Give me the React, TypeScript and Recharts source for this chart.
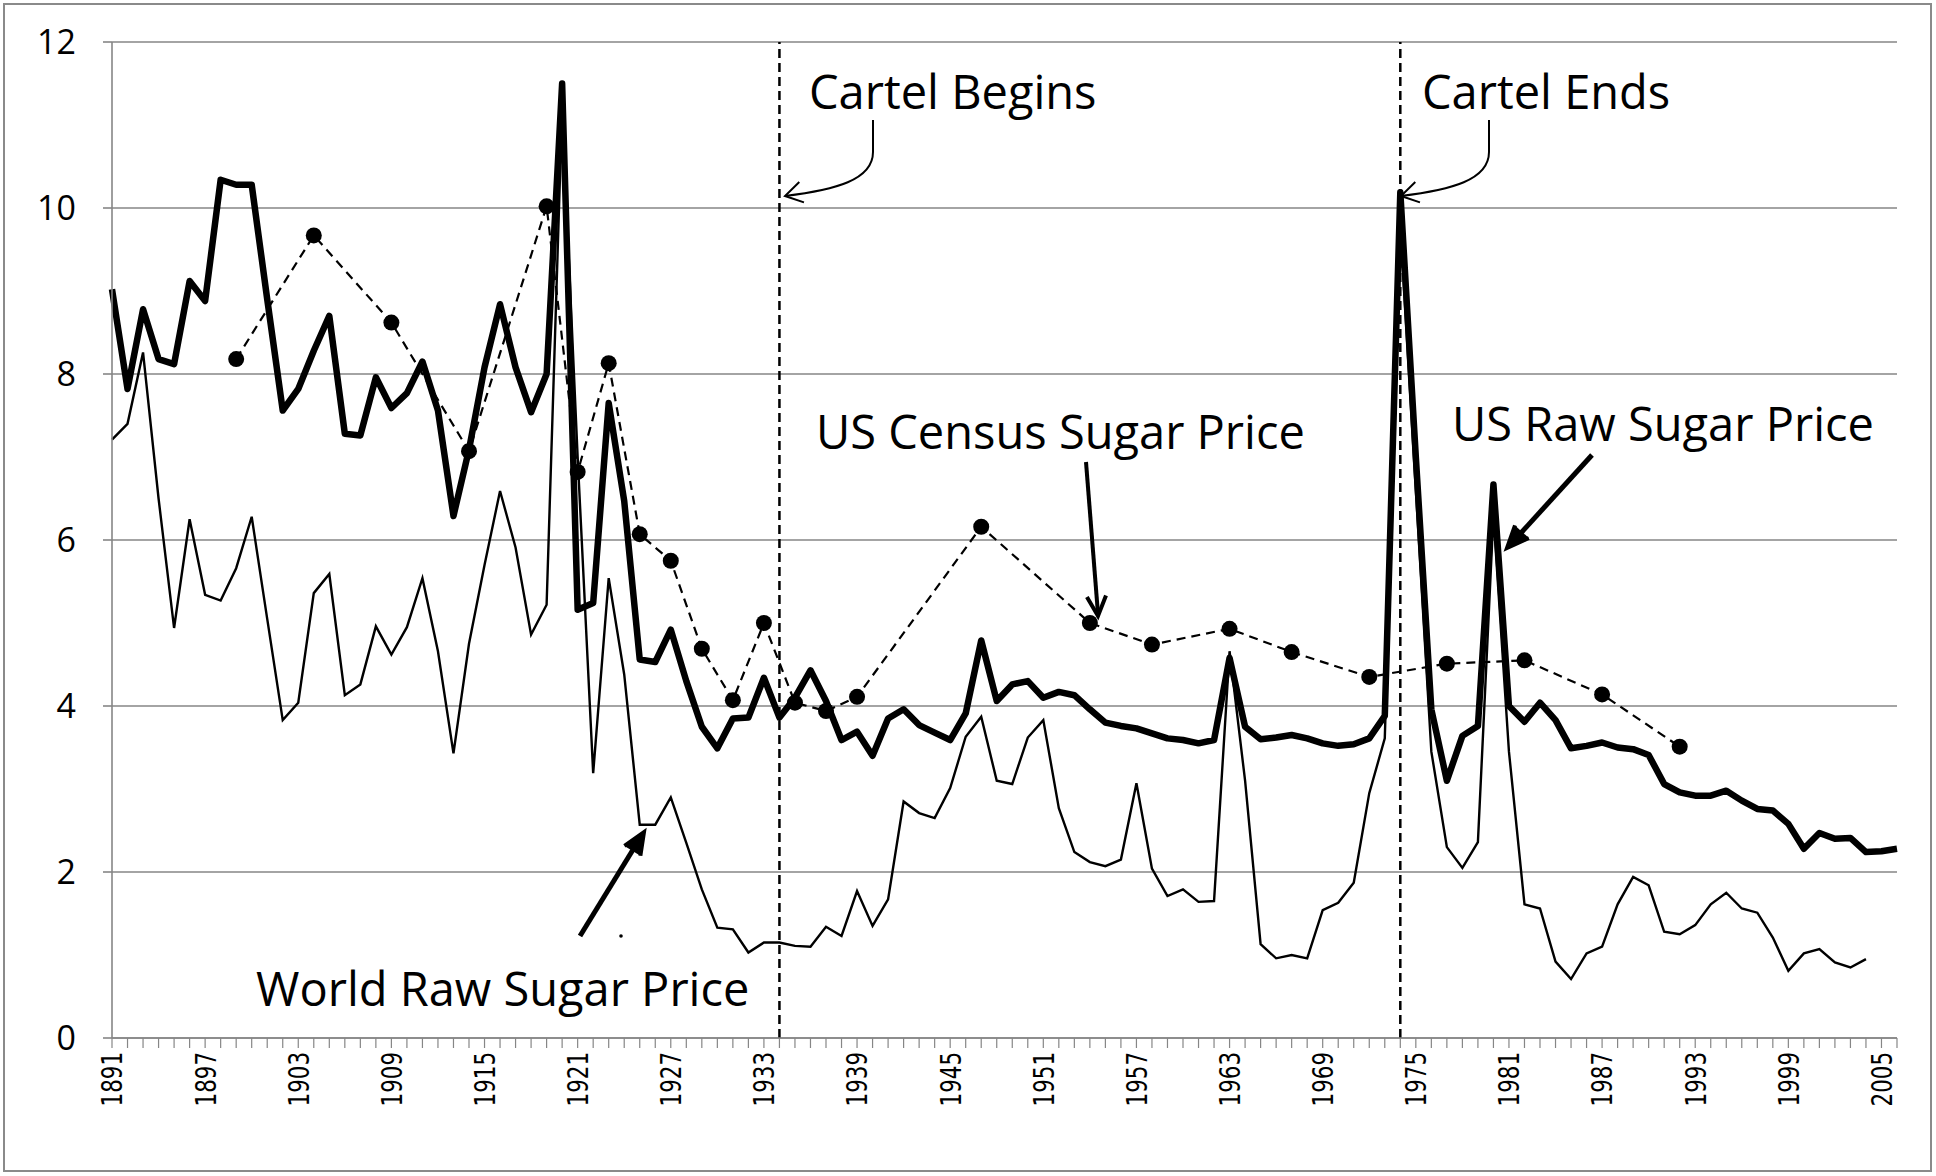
import React from "react";
import { LineChart, Line, XAxis, YAxis, CartesianGrid, ReferenceLine } from "recharts";

const YEARS = [
  1891, 1892, 1893, 1894, 1895, 1896, 1897, 1898, 1899, 1900,
  1901, 1902, 1903, 1904, 1905, 1906, 1907, 1908, 1909, 1910,
  1911, 1912, 1913, 1914, 1915, 1916, 1917, 1918, 1919, 1920,
  1921, 1922, 1923, 1924, 1925, 1926, 1927, 1928, 1929, 1930,
  1931, 1932, 1933, 1934, 1935, 1936, 1937, 1938, 1939, 1940,
  1941, 1942, 1943, 1944, 1945, 1946, 1947, 1948, 1949, 1950,
  1951, 1952, 1953, 1954, 1955, 1956, 1957, 1958, 1959, 1960,
  1961, 1962, 1963, 1964, 1965, 1966, 1967, 1968, 1969, 1970,
  1971, 1972, 1973, 1974, 1975, 1976, 1977, 1978, 1979, 1980,
  1981, 1982, 1983, 1984, 1985, 1986, 1987, 1988, 1989, 1990,
  1991, 1992, 1993, 1994, 1995, 1996, 1997, 1998, 1999, 2000,
  2001, 2002, 2003, 2004, 2005, 2006,
];

// US raw sugar price (thick line)
const US_RAW = [
  9.02, 7.82, 8.78, 8.18, 8.12, 9.12, 8.88, 10.34, 10.28, 10.28,
  8.9, 7.56, 7.82, 8.28, 8.7, 7.28, 7.26, 7.96, 7.59, 7.77,
  8.15, 7.56, 6.29, 7.09, 8.08, 8.84, 8.08, 7.54, 8.0, 11.5,
  5.16, 5.24, 7.65, 6.47, 4.56, 4.53, 4.92, 4.3, 3.75, 3.49,
  3.85, 3.86, 4.34, 3.86, 4.1, 4.43, 4.06, 3.59, 3.69, 3.4,
  3.85, 3.96, 3.77, 3.68, 3.59, 3.91, 4.79, 4.06, 4.26, 4.3,
  4.1, 4.17, 4.13, 3.96, 3.8, 3.76, 3.73, 3.67, 3.61, 3.59,
  3.55, 3.59, 4.58, 3.75, 3.6, 3.62, 3.65, 3.61, 3.55, 3.52,
  3.54, 3.61, 3.88, 10.19, 7.0, 3.96, 3.1, 3.64, 3.76, 6.67,
  4.0, 3.81, 4.04, 3.83, 3.49, 3.52, 3.56, 3.5, 3.48, 3.41,
  3.06, 2.96, 2.92, 2.92, 2.98, 2.86, 2.76, 2.74, 2.58, 2.28,
  2.47, 2.4, 2.41, 2.24, 2.25, 2.28,
];

// World raw sugar price (thin line)
const WORLD_RAW = [
  7.21, 7.4, 8.26, 6.5, 4.94, 6.25, 5.34, 5.27, 5.66, 6.28,
  5.05, 3.83, 4.04, 5.36, 5.59, 4.13, 4.26, 4.96, 4.62, 4.95,
  5.54, 4.66, 3.43, 4.75, 5.7, 6.59, 5.91, 4.86, 5.22, 11.2,
  7.0, 3.19, 5.54, 4.38, 2.57, 2.57, 2.9, 2.35, 1.79, 1.33,
  1.31, 1.03, 1.15, 1.15, 1.11, 1.1, 1.34, 1.23, 1.77, 1.35,
  1.67, 2.85, 2.71, 2.65, 3.01, 3.63, 3.87, 3.1, 3.06, 3.62,
  3.83, 2.77, 2.24, 2.12, 2.07, 2.15, 3.07, 2.04, 1.71, 1.79,
  1.64, 1.65, 4.66, 3.1, 1.13, 0.96, 1.0, 0.96, 1.54, 1.63,
  1.87, 2.95, 3.61, 9.8, 6.6, 3.45, 2.3, 2.05, 2.36, 6.3,
  3.45, 1.61, 1.56, 0.92, 0.71, 1.02, 1.1, 1.61, 1.94, 1.84,
  1.28, 1.25, 1.36, 1.61, 1.75, 1.56, 1.51, 1.21, 0.81, 1.02,
  1.07, 0.91, 0.85, 0.95, null, null,
];

// US census sugar price (dashed with dots)
const CENSUS_YEARS = [
  1899, 1904, 1909, 1914, 1919, 1921, 1923, 1925, 1927, 1929, 1931, 1933,
  1935, 1937, 1939, 1947, 1954, 1958, 1963, 1967, 1972, 1977, 1982, 1987, 1992,
];
const CENSUS_PRICE = [
  8.18, 9.67, 8.62, 7.07, 10.02, 6.82, 8.13, 6.07, 5.75, 4.69, 4.07, 5.0,
  4.04, 3.94, 4.11, 6.16, 5.0, 4.74, 4.93, 4.65, 4.35, 4.51, 4.55, 4.14, 3.51,
];

const Y_TICKS = [0, 2, 4, 6, 8, 10, 12];
const LABEL_EVERY = 6;
const CARTEL_BEGINS = 1934;
const CARTEL_ENDS = 1974;

const FONT = "'Open Sans', sans-serif";
const GRID = "#868686";

const data = YEARS.map((year, i) => {
  const c = CENSUS_YEARS.indexOf(year);
  return {
    year,
    raw: US_RAW[i],
    world: WORLD_RAW[i],
    census: c >= 0 ? CENSUS_PRICE[c] : null,
  };
});

// year labels: rotated, squeezed along the text so the digits stay tall
function YearTick(props: any) {
  const { x, y, payload } = props;
  if ((payload.value - YEARS[0]) % LABEL_EVERY !== 0) return <g />;
  return (
    <g transform={`translate(${x}, ${y}) rotate(-90) scale(0.82, 1)`}>
      <text
        x={0}
        y={0}
        textAnchor="end"
        dominantBaseline="central"
        fontSize={29}
        fontFamily="'DejaVu Sans Condensed', 'DejaVu Sans', sans-serif"
        fill="#000"
      >
        {payload.value}
      </text>
    </g>
  );
}

// arrow head arms pointing at (tx, ty) coming from (fx, fy)
function head(fx: number, fy: number, tx: number, ty: number, len: number, ang: number) {
  const a = Math.atan2(fy - ty, fx - tx);
  const p1 = [tx + len * Math.cos(a + ang), ty + len * Math.sin(a + ang)];
  const p2 = [tx + len * Math.cos(a - ang), ty + len * Math.sin(a - ang)];
  return `M ${p1[0]} ${p1[1]} L ${tx} ${ty} L ${p2[0]} ${p2[1]}`;
}

function Annotations() {
  const txt = { fontFamily: FONT, fontSize: 47, fill: "#000" };
  return (
    <svg
      width={1936}
      height={1176}
      style={{ position: "absolute", left: 0, top: 0, pointerEvents: "none" }}
    >
      <rect x={4} y={4} width={1927} height={1167} fill="none" stroke="#8a8a8a" strokeWidth={2} />

      <text x={809} y={109} {...txt}>Cartel Begins</text>
      <path d="M 873 120 L 873 152 C 873 180, 835 190, 785 196" fill="none" stroke="#000" strokeWidth={2} />
      <path d={head(820, 188, 785, 196, 20, 0.55)} fill="none" stroke="#000" strokeWidth={2} />

      <text x={1422} y={109} {...txt}>Cartel Ends</text>
      <path d="M 1489 120 L 1489 152 C 1489 180, 1451 190, 1401 196" fill="none" stroke="#000" strokeWidth={2} />
      <path d={head(1436, 188, 1401, 196, 20, 0.55)} fill="none" stroke="#000" strokeWidth={2} />

      <text x={816} y={449} {...txt}>US Census Sugar Price</text>
      <path d="M 1086 462 L 1098 614" fill="none" stroke="#000" strokeWidth={4} />
      <path d={head(1086, 462, 1098, 616, 22, 0.45)} fill="none" stroke="#000" strokeWidth={4} />

      <text x={1452} y={441} {...txt}>US Raw Sugar Price</text>
      <path d="M 1592 455 L 1510 545" fill="none" stroke="#000" strokeWidth={5} />
      <path d={head(1592, 455, 1507, 548, 24, 0.4)} fill="#000" stroke="#000" strokeWidth={4} />

      <text x={256} y={1006} {...txt}>World Raw Sugar Price</text>
      <path d="M 580 936 L 642 835" fill="none" stroke="#000" strokeWidth={5} />
      <path d={head(580, 936, 644, 832, 24, 0.4)} fill="#000" stroke="#000" strokeWidth={4} />
      <circle cx={621} cy={936} r={1.8} fill="#000" />
    </svg>
  );
}

export default function App() {
  return (
    <div style={{ position: "absolute", left: 0, top: 0, width: 1936, height: 1176, background: "#fff" }}>
      <LineChart
        width={1936}
        height={1176}
        data={data}
        margin={{ top: 42, right: 39, bottom: 18, left: 12 }}
      >
        <CartesianGrid vertical={false} stroke={GRID} strokeWidth={1.6} />
        <XAxis
          dataKey="year"
          interval={0}
          height={120}
          tickSize={10}
          tickMargin={4}
          tick={YearTick}
          axisLine={{ stroke: GRID, strokeWidth: 1.6 }}
          tickLine={{ stroke: GRID, strokeWidth: 1.2 }}
        />
        <YAxis
          domain={[0, 12]}
          ticks={Y_TICKS}
          width={100}
          tickSize={9}
          tickMargin={27}
          axisLine={{ stroke: GRID, strokeWidth: 1.6 }}
          tickLine={{ stroke: GRID, strokeWidth: 1.6 }}
          tick={{ fontSize: 34, fontFamily: FONT, fill: "#000" }}
        />
        <ReferenceLine x={CARTEL_BEGINS} stroke="#000" strokeWidth={2.5} strokeDasharray="9 5" />
        <ReferenceLine x={CARTEL_ENDS} stroke="#000" strokeWidth={2.5} strokeDasharray="9 5" />
        <Line
          dataKey="world"
          stroke="#000"
          strokeWidth={2.4}
          dot={false}
          isAnimationActive={false}
        />
        <Line
          dataKey="raw"
          stroke="#000"
          strokeWidth={6.5}
          strokeLinejoin="round"
          dot={false}
          isAnimationActive={false}
        />
        <Line
          dataKey="census"
          stroke="#000"
          strokeWidth={2.2}
          strokeDasharray="9 6"
          connectNulls
          dot={{ r: 8, fill: "#000", stroke: "none" }}
          isAnimationActive={false}
        />
      </LineChart>
      <Annotations />
    </div>
  );
}
